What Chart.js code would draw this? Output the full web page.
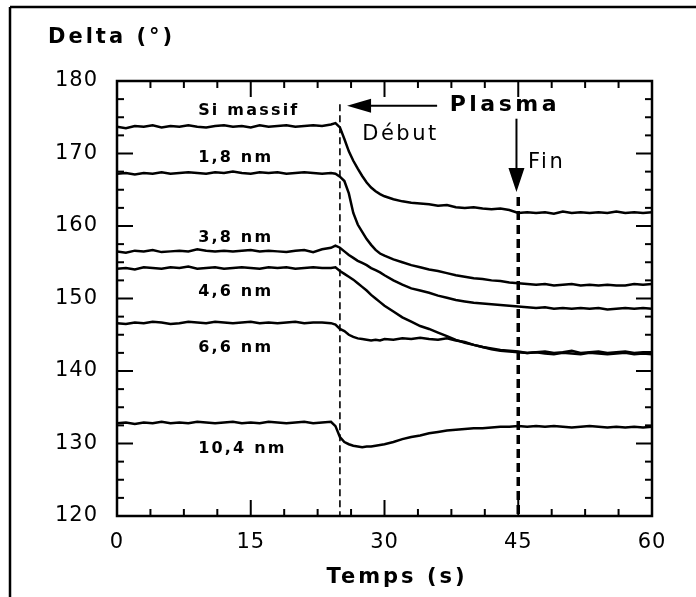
<!DOCTYPE html>
<html>
<head>
<meta charset="utf-8">
<script src="https://cdn.jsdelivr.net/npm/chart.js@4.4.1/dist/chart.umd.min.js"></script>
<style>
  html, body { margin: 0; padding: 0; background: #fff; }
</style>
</head>
<body>
<canvas id="deltaChart" width="696" height="597"></canvas>
<script>
// temps (s)
const temps = [
  0, 1, 2, 3, 4, 5, 6, 7, 8, 9, 10, 11, 12, 13, 14, 15, 16, 17, 18, 19, 20, 21, 22, 23, 24,
  24.5, 25, 25.5, 26, 26.5, 27, 27.5, 28, 28.5, 29, 29.5,
  30, 31, 32, 33, 34, 35, 36, 37, 38, 39, 40, 41, 42, 43, 44, 45, 46, 47, 48, 49, 50,
  51, 52, 53, 54, 55, 56, 57, 58, 59, 60
];

// Delta (deg) for each sample
const siMassif = [
  173.7, 173.5, 173.8, 173.7, 173.9, 173.6, 173.8, 173.7, 173.9, 173.7,
  173.6, 173.8, 173.9, 173.7, 173.8, 173.6, 173.9, 173.7, 173.8, 173.9,
  173.7, 173.8, 173.9, 173.8, 174.0,
  174.2, 173.6, 172.0, 170.3, 169.0, 167.9, 166.9, 166.0, 165.3, 164.8, 164.4,
  164.1, 163.7, 163.4, 163.2, 163.1, 163.0, 162.8, 162.9, 162.6, 162.5,
  162.6, 162.4, 162.3, 162.4, 162.2, 161.8, 161.9, 161.8, 161.9, 161.7,
  162.0, 161.8, 161.9, 161.8, 161.9, 161.8, 162.0, 161.8, 161.9, 161.8, 161.9
];
const nm18 = [
  167.2, 167.3, 167.1, 167.3, 167.2, 167.4, 167.2, 167.3, 167.4, 167.3,
  167.2, 167.4, 167.3, 167.5, 167.3, 167.2, 167.4, 167.3, 167.4, 167.2,
  167.3, 167.4, 167.3, 167.2, 167.3,
  167.2, 166.8, 166.2, 164.5, 161.8, 160.2, 159.2, 158.2, 157.4, 156.7, 156.2,
  155.9, 155.4, 155.0, 154.6, 154.3, 154.0, 153.8, 153.5, 153.2, 153.0,
  152.8, 152.7, 152.5, 152.4, 152.2, 152.1, 152.0, 151.9, 152.0, 151.8,
  151.9, 152.0, 151.8, 151.9, 151.8, 151.9, 151.8, 151.8, 152.0, 151.9, 152.0
];
const nm38 = [
  156.5, 156.3, 156.6, 156.5, 156.7, 156.4, 156.5, 156.6, 156.5, 156.8,
  156.6, 156.5, 156.6, 156.5, 156.6, 156.7, 156.5, 156.6, 156.5, 156.4,
  156.6, 156.7, 156.4, 156.8, 157.0,
  157.3, 157.0, 156.5, 156.0, 155.6, 155.2, 154.9, 154.6, 154.2, 153.9, 153.6,
  153.2, 152.5, 151.9, 151.4, 151.1, 150.8, 150.4, 150.1, 149.8, 149.6,
  149.4, 149.3, 149.2, 149.1, 149.0, 148.9, 148.8, 148.7, 148.8, 148.6,
  148.7, 148.6, 148.7, 148.6, 148.7, 148.5, 148.6, 148.7, 148.6, 148.7, 148.6
];
const nm46 = [
  154.1, 154.2, 154.0, 154.3, 154.2, 154.1, 154.3, 154.2, 154.4, 154.1,
  154.2, 154.3, 154.1, 154.2, 154.3, 154.2, 154.1, 154.3, 154.2, 154.3,
  154.1, 154.2, 154.3, 154.2, 154.2,
  154.3, 153.8, 153.4, 153.0, 152.6, 152.1, 151.6, 151.1, 150.5, 150.0, 149.5,
  149.0, 148.2, 147.4, 146.8, 146.2, 145.8, 145.3, 144.8, 144.3, 143.9,
  143.6, 143.3, 143.0, 142.8, 142.7, 142.6, 142.5, 142.6, 142.7, 142.5,
  142.6, 142.8, 142.5, 142.6, 142.7, 142.5, 142.6, 142.7, 142.5, 142.6, 142.6
];
const nm66 = [
  146.6, 146.5, 146.7, 146.6, 146.8, 146.7, 146.5, 146.6, 146.8, 146.7,
  146.6, 146.8, 146.7, 146.6, 146.7, 146.8, 146.6, 146.7, 146.6, 146.7,
  146.8, 146.6, 146.7, 146.7, 146.6,
  146.4, 145.8, 145.5, 145.0, 144.7, 144.5, 144.4, 144.3, 144.2, 144.3, 144.2,
  144.4, 144.3, 144.5, 144.4, 144.6, 144.4, 144.3, 144.5, 144.2, 144.0,
  143.6, 143.3, 143.1, 142.9, 142.8, 142.7, 142.5, 142.6, 142.4, 142.3,
  142.5, 142.4, 142.3, 142.5, 142.4, 142.3, 142.4, 142.5, 142.3, 142.4, 142.3
];
const nm104 = [
  132.8, 132.9, 132.7, 132.9, 132.8, 133.0, 132.8, 132.9, 132.8, 133.0,
  132.9, 132.8, 132.9, 133.0, 132.8, 132.9, 132.8, 133.0, 132.9, 132.8,
  132.9, 133.0, 132.8, 132.9, 133.0,
  132.4, 130.9, 130.2, 129.9, 129.7, 129.6, 129.5, 129.6, 129.6, 129.7, 129.8,
  129.9, 130.2, 130.6, 130.9, 131.1, 131.4, 131.6, 131.8, 131.9, 132.0,
  132.1, 132.1, 132.2, 132.3, 132.3, 132.4, 132.3, 132.4, 132.3, 132.4,
  132.3, 132.2, 132.3, 132.4, 132.3, 132.2, 132.3, 132.2, 132.3, 132.2, 132.3
];

const seriesNames = ['Si massif', '1,8 nm', '3,8 nm', '4,6 nm', '6,6 nm', '10,4 nm'];
const seriesValues = [siMassif, nm18, nm38, nm46, nm66, nm104];

const xTicks = [0, 15, 30, 45, 60];
const yTicks = [120, 130, 140, 150, 160, 170, 180];

// plasma start / end (s)
const plasmaDebut = 25;
const plasmaFin = 45;

// where the curve names sit (temps, delta)
const nameAnchors = [[9.1, 175.9], [9.1, 169.4], [9.1, 158.3], [9.1, 150.9], [9.1, 143.2], [9.1, 129.2]];

const FONT = "'DejaVu Sans', Verdana, sans-serif";

function line(ctx, x1, y1, x2, y2) {
  ctx.beginPath();
  ctx.moveTo(x1, y1);
  ctx.lineTo(x2, y2);
  ctx.stroke();
}

function spacedText(ctx, text, x, y, font, spacing, align) {
  ctx.font = font;
  ctx.letterSpacing = spacing + 'px';
  ctx.textAlign = align || 'left';
  ctx.textBaseline = 'middle';
  ctx.fillText(text, x, y);
}

const decorPlugin = {
  id: 'decor',
  beforeDraw(chart) {
    chart.ctx.letterSpacing = '1px';
  },
  afterDraw(chart) {
    const ctx = chart.ctx;
    const xs = chart.scales.x, ys = chart.scales.y;
    const { left, right, top, bottom } = chart.chartArea;
    ctx.save();
    ctx.strokeStyle = '#000';
    ctx.fillStyle = '#000';

    // outer frame (left and top only visible)
    ctx.lineWidth = 2.5;
    line(ctx, 10, 7, 10, chart.height);
    line(ctx, 10, 7, chart.width, 7);

    // plot frame
    ctx.lineWidth = 2.5;
    ctx.strokeRect(left, top, right - left, bottom - top);

    // inward ticks
    for (let v = 0; v <= 60.001; v += 3.75) {
      const p = xs.getPixelForValue(v);
      const major = xTicks.includes(v);
      const len = major ? 16 : 7;
      ctx.lineWidth = 2;
      line(ctx, p, bottom, p, bottom - len);
      line(ctx, p, top, p, top + len);
    }
    for (let v = 120; v <= 180.001; v += 2.5) {
      const p = ys.getPixelForValue(v);
      const major = yTicks.includes(v);
      const len = major ? 16 : 7;
      ctx.lineWidth = 2;
      line(ctx, left, p, left + len, p);
      line(ctx, right, p, right - len, p);
    }

    // plasma start: thin dashed line
    const xd = xs.getPixelForValue(plasmaDebut);
    ctx.lineWidth = 1.6;
    ctx.setLineDash([7, 4]);
    line(ctx, xd, ys.getPixelForValue(176.8), xd, bottom);
    // plasma end: thick dashed line
    const xf = xs.getPixelForValue(plasmaFin);
    ctx.lineWidth = 3.5;
    ctx.setLineDash([9, 5]);
    line(ctx, xf, ys.getPixelForValue(164.0), xf, bottom);
    ctx.setLineDash([]);

    // left arrow towards the start line
    const ay = ys.getPixelForValue(176.6);
    const tipX = xs.getPixelForValue(25.8);
    ctx.lineWidth = 2;
    line(ctx, xs.getPixelForValue(35.9), ay, tipX + 20, ay);
    ctx.beginPath();
    ctx.moveTo(tipX, ay);
    ctx.lineTo(tipX + 24, ay - 7);
    ctx.lineTo(tipX + 24, ay + 7);
    ctx.closePath();
    ctx.fill();

    // down arrow towards the end line
    const tipY = ys.getPixelForValue(164.7);
    const axf = xs.getPixelForValue(44.8);
    line(ctx, axf, ys.getPixelForValue(174.8), axf, tipY - 20);
    ctx.beginPath();
    ctx.moveTo(axf, tipY);
    ctx.lineTo(axf - 8, tipY - 24);
    ctx.lineTo(axf + 8, tipY - 24);
    ctx.closePath();
    ctx.fill();

    // texts
    spacedText(ctx, 'Plasma', xs.getPixelForValue(43.5), ys.getPixelForValue(176.7), 'bold 22px ' + FONT, 3.5, 'center');
    spacedText(ctx, 'Début', xs.getPixelForValue(27.5), ys.getPixelForValue(172.6), '21px ' + FONT, 2.5, 'left');
    spacedText(ctx, 'Fin', xs.getPixelForValue(46.1), ys.getPixelForValue(168.8), '21px ' + FONT, 2.5, 'left');

    nameAnchors.forEach((a, i) => {
      spacedText(ctx, seriesNames[i], xs.getPixelForValue(a[0]), ys.getPixelForValue(a[1]), 'bold 16px ' + FONT, 2.2, 'left');
    });

    // axis titles
    spacedText(ctx, 'Delta (°)', 48, 38, 'bold 21px ' + FONT, 3, 'left');
    spacedText(ctx, 'Temps (s)', 397, 578, 'bold 21px ' + FONT, 3, 'center');

    ctx.restore();
  }
};

new Chart(document.getElementById('deltaChart'), {
  type: 'line',
  data: {
    datasets: seriesValues.map((vals, i) => ({
      label: seriesNames[i],
      data: temps.map((t, j) => ({ x: t, y: vals[j] })),
      borderColor: '#000000',
      borderWidth: 2.5,
      pointRadius: 0,
      tension: 0,
      fill: false
    }))
  },
  options: {
    responsive: false,
    animation: false,
    layout: { padding: { top: 81, right: 44, left: 0, bottom: 0 } },
    plugins: {
      legend: { display: false },
      tooltip: { enabled: false }
    },
    scales: {
      x: {
        type: 'linear',
        min: 0,
        max: 60,
        afterBuildTicks: s => { s.ticks = xTicks.map(v => ({ value: v })); },
        afterFit: s => { s.height = 81; },
        ticks: {
          color: '#000',
          font: { family: FONT, size: 21 },
          padding: 14,
          maxRotation: 0
        },
        grid: { display: false, drawTicks: false },
        border: { display: false }
      },
      y: {
        min: 120,
        max: 180,
        afterBuildTicks: s => { s.ticks = yTicks.map(v => ({ value: v })); },
        afterFit: s => { s.width = 117; },
        ticks: {
          color: '#000',
          font: { family: FONT, size: 21 },
          padding: 19
        },
        grid: { display: false, drawTicks: false },
        border: { display: false }
      }
    }
  },
  plugins: [decorPlugin]
});
</script>
</body>
</html>
